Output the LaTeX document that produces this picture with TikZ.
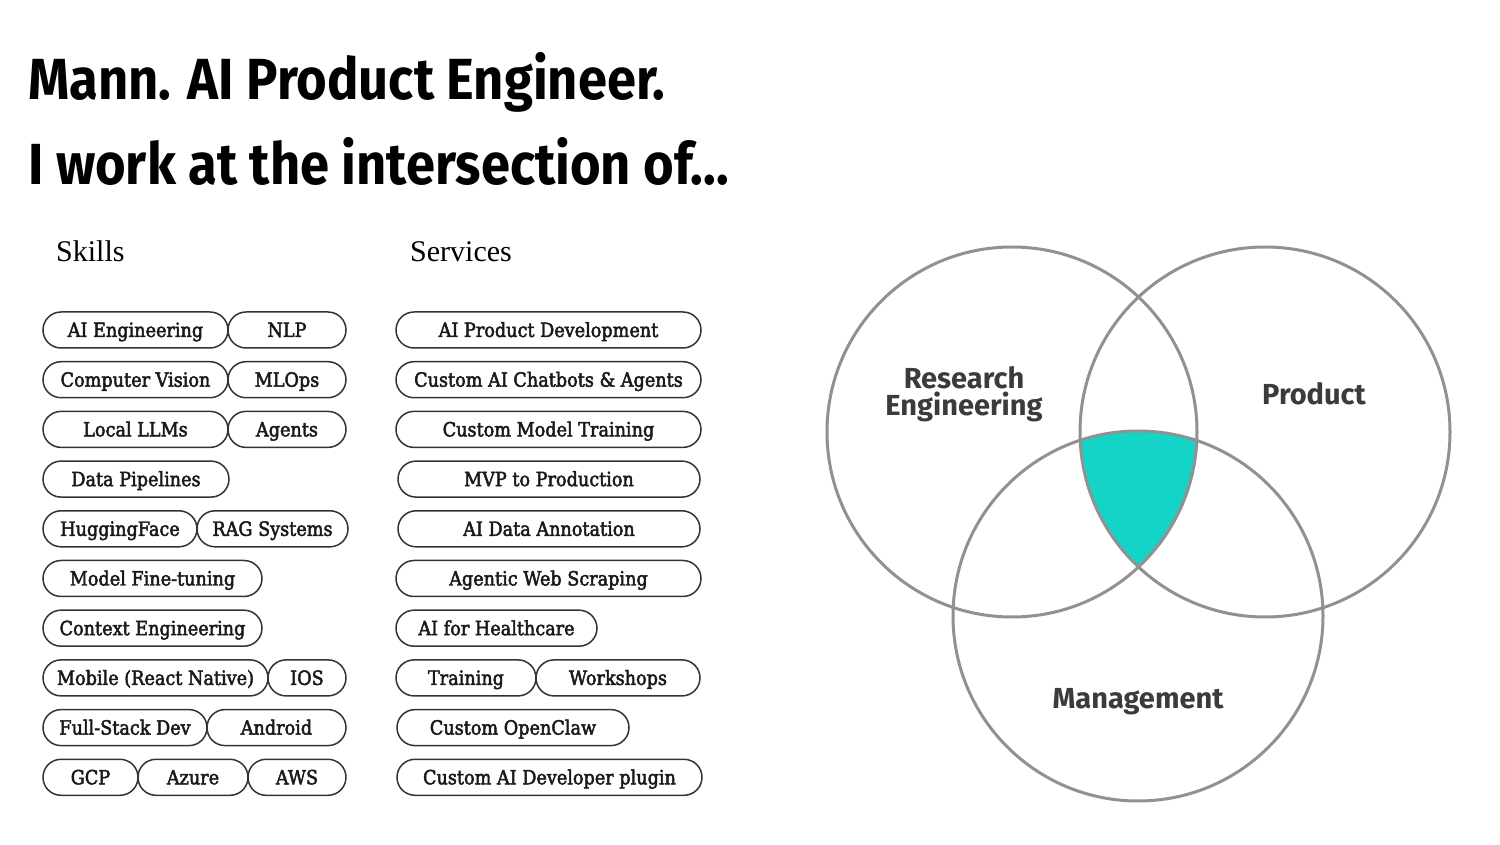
\documentclass[tikz,border=0pt]{standalone}
\usepackage{fontspec}
\setmainfont{DejaVu Serif}[FakeStretch=0.9]
\newfontfamily\pillfont{DejaVu Serif}[FakeStretch=0.9, FakeBold=2.4]
\newfontfamily\headfont{Fira Sans}[FakeStretch=0.905]
\newfontfamily\vennfont{Fira Sans}
\newfontfamily\capfont{Liberation Serif}
\usepackage{xcolor}
\usepackage{tikz}
\usetikzlibrary{positioning}

\definecolor{pillgray}{HTML}{333333}
\definecolor{ringgray}{HTML}{919191}
\definecolor{vennteal}{RGB}{20,212,200}
\definecolor{labelgray}{HTML}{3B3B3B}

\tikzset{
    pill/.style={draw=pillgray, line width=1.5pt, rounded corners=18pt,
        minimum height=36pt, inner sep=0pt, outer sep=0pt,
        text height=18pt, text depth=4pt, text=black!90,
        font=\pillfont\fontsize{19.6}{21}\selectfont},
    ring/.style={draw=ringgray, line width=3pt},
    venntext/.style={text=labelgray, align=center,
        font=\vennfont\bfseries\fontsize{29}{27}\selectfont},
}

\begin{document}
\begin{tikzpicture}[x=1pt, y=1pt]

        \def\gap{13.7pt}
        \useasboundingbox[fill=white] (0, 0) rectangle (1500, 844);

        % Title lines
        \node (T1) [anchor=base west, inner sep=0pt,
            font=\headfont\bfseries\fontsize{58}{60}\selectfont]
            at (28, 744) {Mann. AI Product Engineer.};
        \node (T2) [anchor=base west, inner sep=0pt,
            font=\headfont\bfseries\fontsize{58}{60}\selectfont]
            at (28, 659) {I work at the intersection of.\kern.5pt.\kern.5pt.};

        \node (H1) [anchor=base west, inner sep=0pt,
            font=\capfont\fontsize{30}{32}\selectfont]
            at (56, 582) {Skills};
        \node (H2) [anchor=base west, inner sep=0pt,
            font=\capfont\fontsize{30}{32}\selectfont]
            at (410, 582) {Services};

        % Skills column
        \begin{scope}
            \node (K1) [pill, minimum width=185pt, anchor=west]
            at (43, 514) {AI Engineering};
            \node (K1b) [pill, minimum width=118pt, right=0pt of K1] {NLP};
            \node (K2) [pill, minimum width=185pt,
            below right=\gap and 0pt of K1.south west] {Computer Vision};
            \node (K2b) [pill, minimum width=118pt, right=0pt of K2] {MLOps};
            \node (K3) [pill, minimum width=185pt,
            below right=\gap and 0pt of K2.south west] {Local LLMs};
            \node (K3b) [pill, minimum width=118pt, right=0pt of K3] {Agents};
            \node (K4) [pill, minimum width=186pt,
            below right=\gap and 0pt of K3.south west] {Data Pipelines};
            \node (K5) [pill, minimum width=154pt,
            below right=\gap and 0pt of K4.south west] {HuggingFace};
            \node (K5b) [pill, minimum width=151pt, right=0pt of K5] {RAG Systems};
            \node (K6) [pill, minimum width=219pt,
            below right=\gap and 0pt of K5.south west] {Model Fine-tuning};
            \node (K7) [pill, minimum width=219pt,
            below right=\gap and 0pt of K6.south west] {Context Engineering};
            \node (K8) [pill, minimum width=225pt,
            below right=\gap and 0pt of K7.south west] {Mobile (React Native)};
            \node (K8b) [pill, minimum width=78pt, right=0pt of K8] {IOS};
            \node (K9) [pill, minimum width=164pt,
            below right=\gap and 0pt of K8.south west] {Full-Stack Dev};
            \node (K9b) [pill, minimum width=139pt, right=0pt of K9] {Android};
            \node (K10) [pill, minimum width=95pt,
            below right=\gap and 0pt of K9.south west] {GCP};
            \node (K10b) [pill, minimum width=110pt, right=0pt of K10] {Azure};
            \node (K10c) [pill, minimum width=98pt, right=0pt of K10b] {AWS};
        \end{scope}

        % Services column
        \begin{scope}
            \node (V1) [pill, minimum width=305pt, anchor=west]
            at (396, 514) {AI Product Development};
            \node (V2) [pill, minimum width=305pt,
            below right=\gap and 0pt of V1.south west] {Custom AI Chatbots \& Agents};
            \node (V3) [pill, minimum width=305pt,
            below right=\gap and 0pt of V2.south west] {Custom Model Training};
            \node (V4) [pill, minimum width=302pt,
            below right=\gap and 2pt of V3.south west] {MVP to Production};
            \node (V5) [pill, minimum width=302pt,
            below right=\gap and 0pt of V4.south west] {AI Data Annotation};
            \node (V6) [pill, minimum width=305pt,
            below right=\gap and -2pt of V5.south west] {Agentic Web Scraping};
            \node (V7) [pill, minimum width=201pt,
            below right=\gap and 0pt of V6.south west] {AI for Healthcare};
            \node (V8) [pill, minimum width=140pt,
            below right=\gap and 0pt of V7.south west] {Training};
            \node (V8b) [pill, minimum width=164pt, right=0pt of V8] {Workshops};
            \node (V9) [pill, minimum width=232pt,
            below right=\gap and 1pt of V8.south west] {Custom OpenClaw};
            \node (V10) [pill, minimum width=305pt,
            below right=\gap and 0pt of V9.south west] {Custom AI Developer plugin};
        \end{scope}

        % Venn diagram
        \coordinate (CL) at (1012, 412);
        \coordinate (CR) at (1265, 412);
        \coordinate (CB) at (1138, 228);

        \begin{scope}
            \clip (CL) circle (185);
            \clip (CR) circle (185);
            \fill[vennteal] (CB) circle (185);
        \end{scope}

        \begin{scope}[ring]
            \draw (CL) circle (185);
            \draw (CR) circle (185);
            \draw (CB) circle (185);
        \end{scope}

        \node (R1) [venntext] at (964, 450) {Research\\Engineering};
        \node (R2) [venntext] at (1314, 450) {Product};
        \node (R3) [venntext] at (1138, 142) {Management};

\end{tikzpicture}
\end{document}
